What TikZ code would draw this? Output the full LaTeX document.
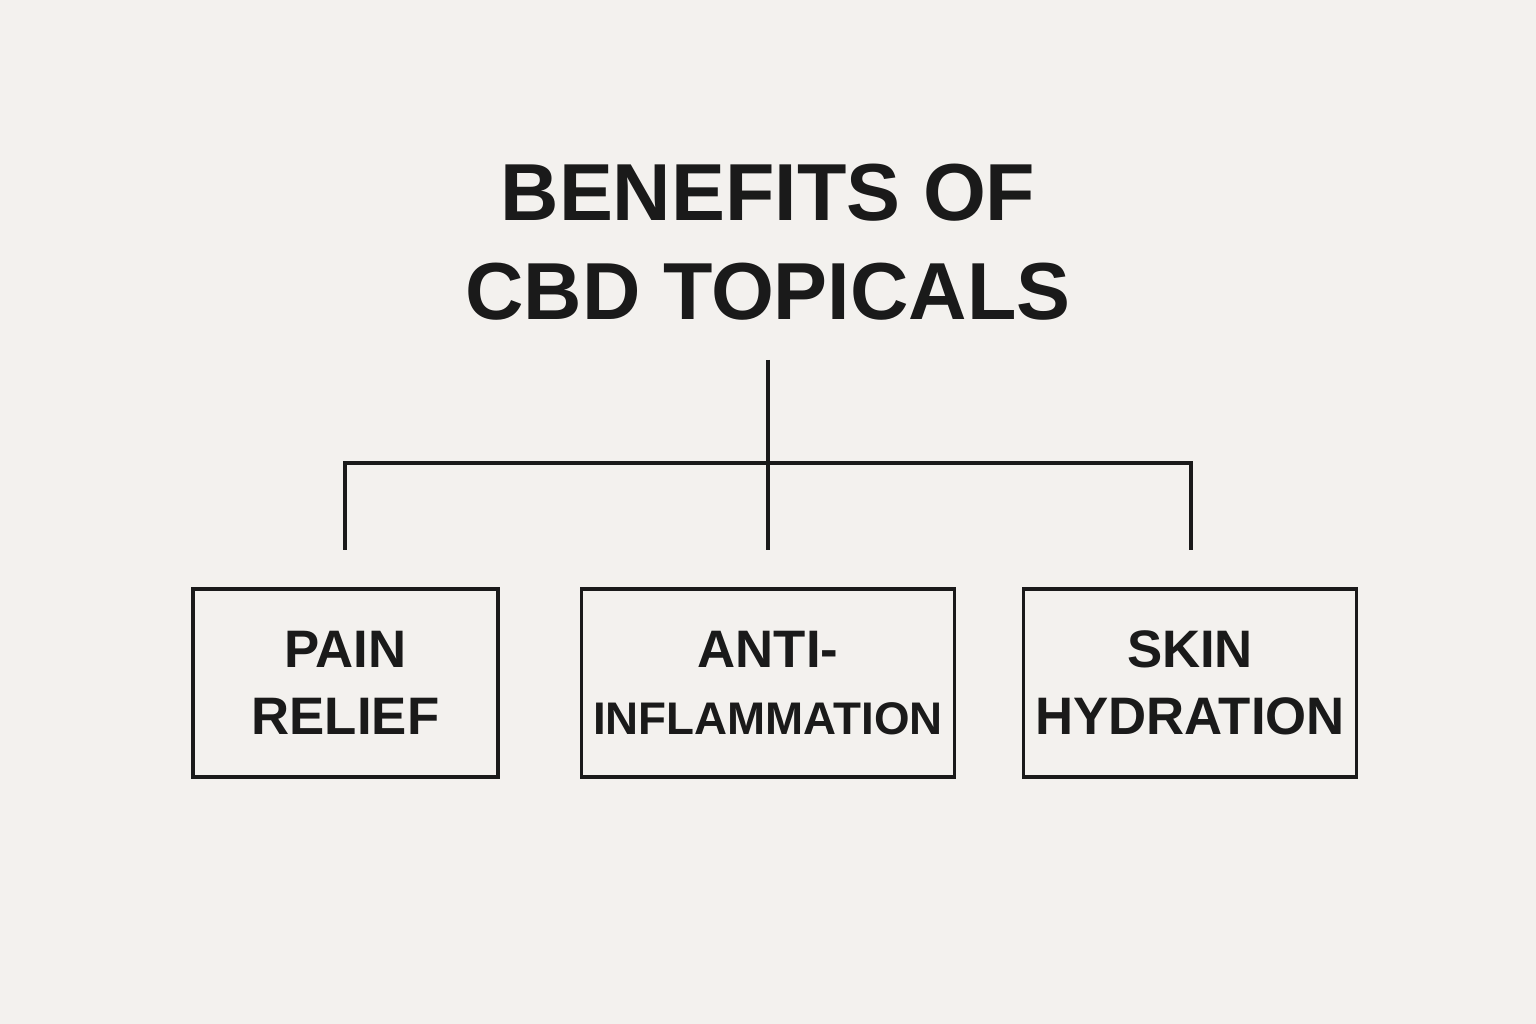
\documentclass[tikz,border=0pt]{standalone}
\usepackage{fontspec}
\setmainfont{Liberation Sans}
\usetikzlibrary{positioning}
\definecolor{paper}{HTML}{F3F1EE}
\definecolor{ink}{HTML}{1A1A1A}

\begin{document}
\begin{tikzpicture}
	[x=0.01cm,y=0.01cm,every node/.style={text=ink,font=\bfseries},
	benefit/.style={draw=ink,line width=1pt,minimum width=305\pgflinewidth*0+3.05cm,minimum height=1.88cm,align=center,font=\bfseries\fontsize{15}{19}\selectfont},
	branch/.style={draw=ink,line width=1.2pt}]
	\fill[paper] (0,0) rectangle (1536,1024);
	\node[align=center,font=\bfseries\fontsize{23}{26}\selectfont] (title) at (768,782) {BENEFITS OF\\[2pt]CBD TOPICALS};
	
	\node[benefit] (pain) at (345.5,341) {PAIN\\RELIEF};
	\node[benefit,minimum width=3.46cm] (anti) at (768,341) {ANTI-\\{\fontsize{13}{19}\selectfont INFLAMMATION}};
	\node[benefit] (skin) at (1190,341) {SKIN\\HYDRATION};
	
	\coordinate (top) at (768,664);
	\coordinate (hub) at (768,561);
	\coordinate (pl) at (345,474);
	\coordinate (al) at (768,474);
	\coordinate (sl) at (1191,474);
	
	\draw[branch] (top) -- (al);
	\draw[branch] (pl) |- (hub) -| (sl);
\end{tikzpicture}
\end{document}
